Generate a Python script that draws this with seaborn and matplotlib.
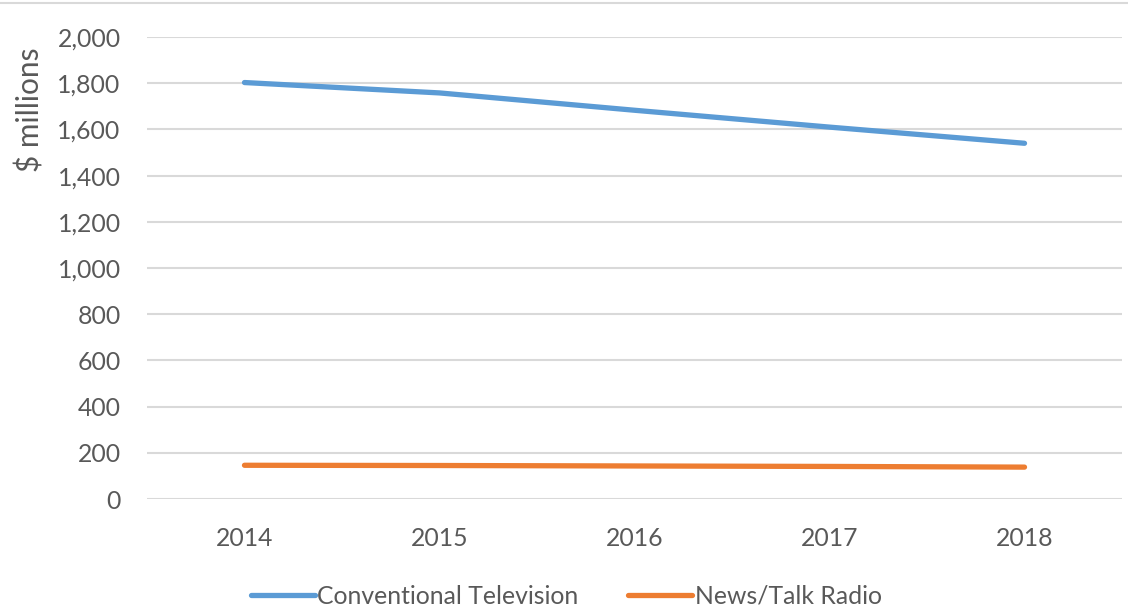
import matplotlib
matplotlib.use("Agg")
import matplotlib.pyplot as plt
from matplotlib.lines import Line2D
import seaborn as sns
import pandas as pd

years = ["2014", "2015", "2016", "2017", "2018"]
conventional_tv = [1803, 1758, 1683, 1610, 1540]
news_talk_radio = [146, 145, 143, 141, 138]
series_names = ["Conventional Television", "News/Talk Radio"]
y_ticks = [0, 200, 400, 600, 800, 1000, 1200, 1400, 1600, 1800, 2000]

df = pd.DataFrame({
    "Year": years * 2,
    "Value": conventional_tv + news_talk_radio,
    "Series": [series_names[0]] * len(years) + [series_names[1]] * len(years),
})

sns.set_theme(style="white")
plt.rcParams["font.family"] = ["Lato", "DejaVu Sans"]

text_color = "#595959"
grid_color = "#D9D9D9"
palette = {series_names[0]: "#5B9BD5", series_names[1]: "#ED7D31"}
fs = 17.8

fig = plt.figure(figsize=(11.28, 6.11), dpi=100)
ax = fig.add_axes([0.1303, 0.1833, 0.8644, 0.7561])

sns.lineplot(data=df, x="Year", y="Value", hue="Series", palette=palette,
             linewidth=3.8, sort=False, ax=ax, legend=False,
             solid_capstyle="round")

ax.set_xlim(-0.5, len(years) - 0.5)
ax.set_ylim(0, 2000)
ax.set_yticks(y_ticks)
ax.set_yticklabels([f"{v:,}" for v in y_ticks])
ax.yaxis.grid(True, color=grid_color, linewidth=1.5)
ax.xaxis.grid(False)
ax.set_axisbelow(True)
for s in ax.spines.values():
    s.set_visible(False)

ax.tick_params(axis="y", length=0, pad=19, labelsize=fs, labelcolor=text_color)
ax.tick_params(axis="x", length=0, pad=20, labelsize=fs, labelcolor=text_color)
ax.set_xlabel("")
ax.set_ylabel("$ millions", fontsize=21.5, color=text_color)
ax.yaxis.set_label_coords(-0.105, 0.843)

handles = [Line2D([0], [0], color=palette[n], linewidth=3.8, solid_capstyle="round")
           for n in series_names]
fig.legend(handles, series_names, loc="center", bbox_to_anchor=(0.502, 0.024),
           ncol=2, frameon=False, fontsize=fs, handlelength=2.6,
           handletextpad=0.1, columnspacing=2.0, labelcolor=text_color)

# thin frame line along the top of the chart area
fig.add_artist(Line2D([0, 1], [0.995, 0.995], transform=fig.transFigure,
                      color=grid_color, linewidth=1.5))

fig.savefig("out.png", dpi=100)
